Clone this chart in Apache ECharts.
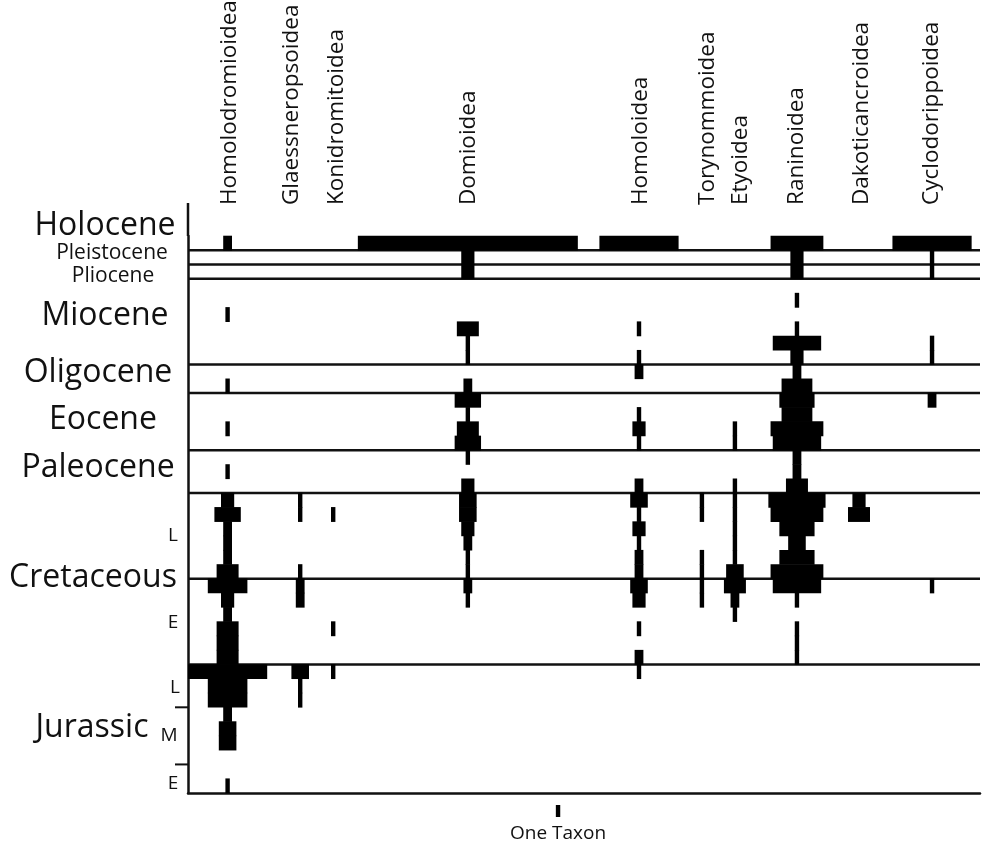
<!DOCTYPE html>
<html>
<head>
<meta charset="utf-8">
<title>Spindle diagram</title>
<script src="https://cdn.jsdelivr.net/npm/echarts@6/dist/echarts.min.js"></script>
<style>
    html, body { margin: 0; padding: 0; background: #fff; }
    #chart { width: 984px; height: 846px; }
</style>
</head>
<body>
<div id="chart"></div>
<script>
// stratigraphic rows, youngest (top) to oldest (bottom)
var stages = [
    'Holocene', 'Pleistocene', 'Pliocene',
    'Messinian', 'Tortonian', 'Serravallian', 'Langhian', 'Burdigalian', 'Aquitanian',
    'Chattian', 'Rupelian',
    'Priabonian', 'Bartonian', 'Lutetian', 'Ypresian',
    'Thanetian', 'Selandian', 'Danian',
    'Maastrichtian', 'Campanian', 'Santonian', 'Coniacian', 'Turonian', 'Cenomanian',
    'Albian', 'Aptian', 'Barremian', 'Hauterivian', 'Valanginian', 'Berriasian',
    'Tithonian', 'Kimmeridgian', 'Oxfordian',
    'Callovian', 'Bathonian', 'Bajocian', 'Aalenian',
    'Toarcian', 'Pliensbachian'
];

var superfamilies = ['Homolodromioidea', 'Glaessneropsoidea', 'Konidromitoidea', 'Domioidea', 'Homoloidea',
    'Torynommoidea', 'Etyoidea', 'Raninoidea', 'Dakoticancroidea', 'Cyclodorippoidea'];

// number of taxa per row (same order as stages)
var homolodromioidea = [2, 0, 0, 0, 0, 1, 0, 0, 0, 0, 1, 0, 0, 1, 0, 0, 1, 0, 3, 6, 2, 2, 2, 5, 9, 3, 2, 5, 5, 5, 18, 9, 9, 2, 4, 4, 0, 0, 1];
var glaessneropsoidea = [0, 0, 0, 0, 0, 0, 0, 0, 0, 0, 0, 0, 0, 0, 0, 0, 0, 0, 1, 1, 0, 0, 0, 1, 2, 2, 0, 0, 0, 0, 4, 1, 1, 0, 0, 0, 0, 0, 0];
var konidromitoidea = [0, 0, 0, 0, 0, 0, 0, 0, 0, 0, 0, 0, 0, 0, 0, 0, 0, 0, 0, 1, 0, 0, 0, 0, 0, 0, 0, 1, 0, 0, 1, 0, 0, 0, 0, 0, 0, 0, 0];
var domioidea = [50, 3, 3, 0, 0, 0, 5, 1, 1, 0, 2, 6, 1, 5, 6, 1, 0, 3, 4, 4, 3, 2, 1, 1, 2, 1, 0, 0, 0, 0, 0, 0, 0, 0, 0, 0, 0, 0, 0];
var homoloidea = [18, 0, 0, 0, 0, 0, 1, 0, 1, 2, 0, 0, 1, 3, 1, 0, 0, 2, 4, 1, 3, 1, 2, 2, 4, 3, 0, 1, 0, 2, 1, 0, 0, 0, 0, 0, 0, 0, 0];
var torynommoidea = [0, 0, 0, 0, 0, 0, 0, 0, 0, 0, 0, 0, 0, 0, 0, 0, 0, 0, 1, 1, 0, 0, 1, 1, 1, 1, 0, 0, 0, 0, 0, 0, 0, 0, 0, 0, 0, 0, 0];
var etyoidea = [0, 0, 0, 0, 0, 0, 0, 0, 0, 0, 0, 0, 0, 1, 1, 0, 0, 1, 1, 1, 1, 1, 1, 4, 5, 2, 1, 0, 0, 0, 0, 0, 0, 0, 0, 0, 0, 0, 0];
var raninoidea = [12, 3, 3, 0, 1, 0, 1, 11, 3, 2, 7, 8, 7, 12, 11, 2, 2, 5, 13, 12, 8, 4, 8, 12, 11, 1, 0, 1, 1, 1, 0, 0, 0, 0, 0, 0, 0, 0, 0];
var dakoticancroidea = [0, 0, 0, 0, 0, 0, 0, 0, 0, 0, 0, 0, 0, 0, 0, 0, 0, 0, 3, 5, 0, 0, 0, 0, 0, 0, 0, 0, 0, 0, 0, 0, 0, 0, 0, 0, 0, 0, 0];
var cyclodorippoidea = [18, 1, 1, 0, 0, 0, 0, 1, 1, 0, 0, 2, 0, 0, 0, 0, 0, 0, 0, 0, 0, 0, 0, 0, 1, 0, 0, 0, 0, 0, 0, 0, 0, 0, 0, 0, 0, 0, 0];

var counts = [homolodromioidea, glaessneropsoidea, konidromitoidea, domioidea, homoloidea,
    torynommoidea, etyoidea, raninoidea, dakoticancroidea, cyclodorippoidea];

// rows that get a full rule on top, and rows that only get a short tick
var epochTops = [1, 2, 3, 9, 11, 15, 18, 24, 30];
var subTicks = [33, 37];

// time labels on the left
var epochLabels = ['Holocene', 'Pleistocene', 'Pliocene', 'Miocene', 'Oligocene', 'Eocene', 'Paleocene', 'Cretaceous', 'Jurassic'];
var subLabels = ['L', 'E', 'L', 'M', 'E'];

window.onload = function () {
    // column centres along x (in taxon units), and small pixel shifts of the header texts
    var colPos = [9, 25.5, 33, 63.6, 102.5, 116.8, 124.3, 138.4, 152.5, 169.1];
    var headShift = [2, -9, 3, 1, 2, 6, 6, 0, 3, 0];

    var barData = [];
    counts.forEach(function (arr, c) {
        arr.forEach(function (n, s) {
            if (n > 0) barData.push([colPos[c], s, n]);
        });
    });
    var ruleData = epochTops.map(function (s) { return [0, s]; });
    var tickData = subTicks.map(function (s) { return [0, s]; });
    var headData = superfamilies.map(function (name, c) { return [colPos[c], 0, c]; });

    var ink = '#111';
    var font = '"Open Sans", "Noto Sans", sans-serif';

    function renderBar(params, api) {
        var c = api.coord([api.value(0), api.value(1)]);
        var h = api.size([0, 1])[1];
        var w = api.size([api.value(2), 0])[0];
        return {
            type: 'rect',
            shape: { x: c[0] - w / 2, y: c[1] - h / 2 - 0.3, width: w, height: h + 0.6 },
            style: { fill: '#000' }
        };
    }

    function renderRule(params, api) {
        var cs = params.coordSys;
        var c = api.coord([0, api.value(1)]);
        var y = c[1] - api.size([0, 1])[1] / 2;
        return {
            type: 'line',
            shape: { x1: cs.x, y1: y, x2: cs.x + cs.width, y2: y },
            style: { stroke: ink, lineWidth: 2.5 }
        };
    }

    function renderTick(params, api) {
        var cs = params.coordSys;
        var c = api.coord([0, api.value(1)]);
        var y = c[1] - api.size([0, 1])[1] / 2;
        return {
            type: 'line',
            shape: { x1: cs.x - 13, y1: y, x2: cs.x, y2: y },
            style: { stroke: ink, lineWidth: 2 }
        };
    }

    function renderHead(params, api) {
        var cs = params.coordSys;
        var c = api.coord([api.value(0), 0]);
        var i = api.value(2);
        var g = {
            type: 'group',
            children: [{
                type: 'text',
                x: c[0] + headShift[i],
                y: cs.y - 31,
                rotation: Math.PI / 2,
                style: {
                    text: superfamilies[i],
                    fill: ink,
                    font: '22.5px ' + font,
                    align: 'left',
                    verticalAlign: 'middle'
                }
            }]
        };
        // the left axis runs up past the grid
        if (params.dataIndex === 0) {
            g.children.push({
                type: 'line',
                shape: { x1: cs.x, y1: cs.y - 33, x2: cs.x, y2: cs.y },
                style: { stroke: ink, lineWidth: 2.5 }
            });
        }
        return g;
    }

    function renderKey(params, api) {
        var cs = params.coordSys;
        var c = api.coord([api.value(0), 0]);
        var w = api.size([api.value(2), 0])[0];
        var top = cs.y + cs.height + 12;
        return {
            type: 'group',
            children: [{
                type: 'rect',
                shape: { x: c[0] - w / 2, y: top, width: w, height: 12 },
                style: { fill: '#000' }
            }, {
                type: 'text',
                x: c[0],
                y: top + 29,
                style: { text: 'One Taxon', fill: ink, font: '19px ' + font, align: 'center', verticalAlign: 'middle' }
            }]
        };
    }

    function label(text, x, y, size) {
        return {
            type: 'text',
            x: x,
            y: y,
            style: { text: text, fill: ink, font: size + 'px ' + font, align: 'center', verticalAlign: 'middle' }
        };
    }

    var option = {
        backgroundColor: '#fff',
        animation: false,
        grid: { left: 188, top: 236, width: 792, height: 557 },
        xAxis: {
            type: 'value',
            min: 0,
            max: 180,
            axisLine: { show: true, onZero: false, lineStyle: { color: ink, width: 2.5 } },
            axisTick: { show: false },
            axisLabel: { show: false },
            splitLine: { show: false }
        },
        yAxis: {
            type: 'category',
            data: stages,
            inverse: true,
            axisLine: { show: true, lineStyle: { color: ink, width: 2.5 } },
            axisTick: { show: false },
            axisLabel: { show: false },
            splitLine: { show: false }
        },
        series: [
            { type: 'custom', name: 'rules', renderItem: renderRule, data: ruleData, silent: true },
            { type: 'custom', name: 'ticks', renderItem: renderTick, data: tickData, silent: true },
            { type: 'custom', name: 'taxa', renderItem: renderBar, data: barData, encode: { x: 0, y: 1 } },
            { type: 'custom', name: 'heads', renderItem: renderHead, data: headData, silent: true },
            { type: 'custom', name: 'key', renderItem: renderKey, data: [[84.1, 0, 1]], silent: true }
        ],
        graphic: [
            label(epochLabels[0], 105, 226, 32),
            label(epochLabels[1], 112, 253, 21),
            label(epochLabels[2], 113, 276, 21),
            label(epochLabels[3], 105, 316, 32),
            label(epochLabels[4], 98, 373, 32),
            label(epochLabels[5], 103, 420, 32),
            label(epochLabels[6], 98, 468, 32),
            label(epochLabels[7], 93, 578, 32),
            label(epochLabels[8], 92, 728, 32),
            label(subLabels[0], 173, 536, 19),
            label(subLabels[1], 173, 623, 19),
            label(subLabels[2], 175, 688, 19),
            label(subLabels[3], 169, 736, 19),
            label(subLabels[4], 173, 784, 19)
        ]
    };

    var myChart = echarts.init(document.getElementById('chart'));
    myChart.setOption(option);
};
</script>
</body>
</html>
